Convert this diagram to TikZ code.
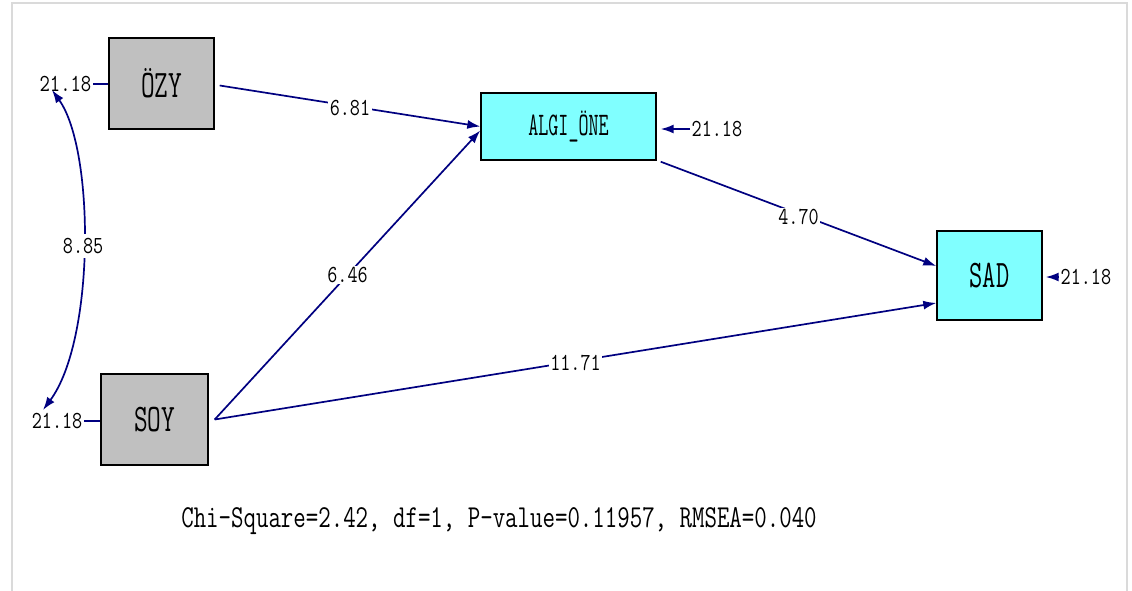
\documentclass[tikz,border=0pt]{standalone}
\usepackage{fontspec}
\usepackage{graphicx}
\usetikzlibrary{arrows.meta}
\definecolor{lnavy}{RGB}{0,0,128}
\definecolor{boxgray}{RGB}{192,192,192}
\definecolor{boxcyan}{RGB}{128,255,255}
\definecolor{framegray}{RGB}{218,218,218}
\newcommand{\sqz}[2]{\scalebox{#1}[1]{#2}}
\begin{document}
\begin{tikzpicture}[x=1pt,y=-1pt,
  obsbox/.style={draw=black,line width=1.4pt,inner sep=0pt,fill=boxgray,
    font=\fontsize{39}{39}\selectfont\ttfamily},
  latbox/.style={draw=black,line width=1.4pt,inner sep=0pt,fill=boxcyan,
    font=\fontsize{39}{39}\selectfont\ttfamily},
  arr/.style={draw=lnavy,line width=1.7pt,-{Latex[length=13pt,width=9pt]}},
  plainline/.style={draw=lnavy,line width=1.7pt},
  covline/.style={draw=lnavy,line width=1.7pt,{Latex[length=13pt,width=9pt]}-{Latex[length=13pt,width=9pt]}},
  lbl/.style={fill=white,inner sep=1.5pt,text=black,font=\fontsize{24.5}{24.5}\selectfont\ttfamily},
  fitlbl/.style={inner sep=0pt,text=black,font=\fontsize{32}{32}\selectfont\ttfamily}
]
\useasboundingbox (0,0) rectangle (1132,590);
\fill[white] (0,0) rectangle (1132,590);
% frame
\draw[framegray,line width=1.5pt] (12,600) -- (12,3) -- (1127,3) -- (1127,600);

% variables
\node[obsbox,minimum width=105pt,minimum height=91pt] (ozy) at (161.5,83.5) {\sqz{0.68}{ÖZY}};
\node[obsbox,minimum width=107pt,minimum height=91pt] (soy) at (154.5,419.5) {\sqz{0.68}{SOY}};
\node[latbox,minimum width=175pt,minimum height=67pt,font=\fontsize{33}{33}\selectfont\ttfamily] (algi) at (568.5,126.5) {\sqz{0.59}{ALGI\_ÖNE}};
\node[latbox,minimum width=105pt,minimum height=89pt] (sad) at (989.5,275.5) {\sqz{0.66}{SAD}};

% error variances
\node[lbl,anchor=east] (ozyerr) at (93,84) {\sqz{0.82}{21.18}};
\node[lbl,anchor=east] (soyerr) at (84,421) {\sqz{0.8}{21.18}};
\node[lbl,anchor=west] (algierr) at (690,129) {\sqz{0.8}{21.18}};
\node[lbl,anchor=west] (saderr) at (1059,277) {\sqz{0.8}{21.18}};

\draw[plainline] (ozyerr.east) -- (ozyerr.east -| ozy.west);
\draw[plainline] (soyerr.east) -- (soyerr.east -| soy.west);
\draw[arr] (algierr.west) -- ([xshift=4pt]algierr.west -| algi.east);
\draw[arr] (saderr.west) -- ([xshift=3pt]saderr.west -| sad.east);

% covariance
\coordinate (ctop) at (52,90);
\coordinate (cbot) at (43,410);
\draw[covline] (ctop) .. controls (95,150) and (95,340) .. (cbot)
  node[lbl,pos=0.5,inner ysep=4pt] (cov) {\sqz{0.8}{8.85}};

% paths
\draw[arr] ([xshift=5pt,yshift=-2pt]ozy.east) -- ([yshift=0pt]algi.west)
  node[lbl,midway,yshift=-2pt] (p1) {\sqz{0.8}{6.81}};
\draw[arr] ([xshift=6pt]soy.east) -- ([yshift=-4pt]algi.west)
  node[lbl,midway] (p2) {\sqz{0.8}{6.46}};
\draw[arr] ([xshift=4pt,yshift=-1pt]algi.south east) -- ([yshift=9.5pt]sad.west)
  node[lbl,midway,yshift=-3pt] (p3) {\sqz{0.8}{4.70}};
\draw[arr] ([xshift=6pt]soy.east) -- ([yshift=-27.5pt]sad.west)
  node[lbl,midway,yshift=-2pt] (p4) {\sqz{0.8}{11.71}};

% fit statistics
\node[fitlbl] (fit) at (499,521) {\sqz{0.756}{Chi-Square=2.42, df=1, P-value=0.11957, RMSEA=0.040}};
\end{tikzpicture}
\end{document}
